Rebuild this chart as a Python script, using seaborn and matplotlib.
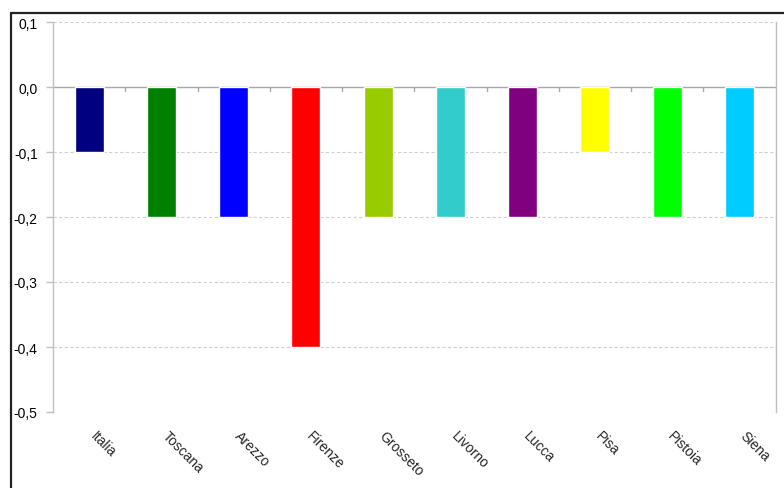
import matplotlib
matplotlib.use("Agg")
import matplotlib.pyplot as plt
import matplotlib.transforms as mtransforms
import seaborn as sns
import pandas as pd
from matplotlib.lines import Line2D
from matplotlib.ticker import FuncFormatter, FixedLocator

categories = ["Italia", "Toscana", "Arezzo", "Firenze", "Grosseto",
              "Livorno", "Lucca", "Pisa", "Pistoia", "Siena"]
values = [-0.1, -0.2, -0.2, -0.4, -0.2, -0.2, -0.2, -0.1, -0.2, -0.2]
colors = ["#000080", "#008000", "#0000FF", "#FF0000", "#99CC00",
          "#33CCCC", "#800080", "#FFFF00", "#00FF00", "#00CCFF"]
yticks = [0.1, 0.0, -0.1, -0.2, -0.3, -0.4, -0.5]

sns.set_theme(style="white")
plt.rcParams["font.family"] = ["Liberation Sans", "DejaVu Sans"]

df = pd.DataFrame({"cat": categories, "val": values})

fig = plt.figure(figsize=(7.84, 4.89), dpi=100)
ax = fig.add_axes([53/784, 1-413/489, (775.5-53)/784, (413-23)/489])

sns.barplot(data=df, x="cat", y="val", hue="cat", palette=colors,
            width=0.4, legend=False, saturation=1, ax=ax, zorder=3)

ax.set_ylim(-0.5, 0.1)
ax.set_xlim(-0.5, len(categories)-0.5)
ax.set_xlabel("")
ax.set_ylabel("")

ax.yaxis.set_major_locator(FixedLocator(yticks))
ax.yaxis.set_major_formatter(FuncFormatter(lambda v, p: f"{v:.1f}".replace(".", ",").replace("-0,0", "0,0")))
ax.tick_params(axis="y", length=5, width=1, color="#c0c0c0", pad=6,
               labelsize=10, labelcolor="black", left=True)

for y in yticks:
    if y != 0:
        ax.axhline(y, color="#d0d0d0", lw=0.8, ls=(0, (3, 2)), zorder=0)

for s in ["top", "bottom"]:
    ax.spines[s].set_visible(False)
for s in ["left", "right"]:
    ax.spines[s].set_color("#c0c0c0")
    ax.spines[s].set_linewidth(1)

# bottom labels
ax.set_xticks(range(len(categories)))
ax.set_xticklabels(categories, rotation=-45, ha="left", va="top",
                   rotation_mode="anchor", fontsize=10)
ax.tick_params(axis="x", length=0, pad=12, bottom=False)
offset = mtransforms.ScaledTranslation(8/100, 0, fig.dpi_scale_trans)
for lbl in ax.get_xticklabels():
    lbl.set_transform(lbl.get_transform() + offset)

# zero axis with small ticks between categories (pointing down)
ax.axhline(0, color="#a8a8a8", lw=1, zorder=2)
trans = mtransforms.blended_transform_factory(ax.transData, ax.transAxes)
zero_ax = 5/6
for i in range(len(categories) - 1):
    ax.add_line(Line2D([i + 0.5, i + 0.5], [zero_ax, zero_ax - 3.5/390],
                       transform=trans, color="#a8a8a8", lw=1, zorder=2))

# outer frame (top + left visible)
fig.add_artist(Line2D([10.5/784, 10.5/784], [0, 1-13.5/489],
                      transform=fig.transFigure, color="#222222", lw=1.6))
fig.add_artist(Line2D([10.5/784, 1], [1-13.5/489, 1-13.5/489],
                      transform=fig.transFigure, color="#222222", lw=1.6))

fig.savefig("out.png", dpi=100)
